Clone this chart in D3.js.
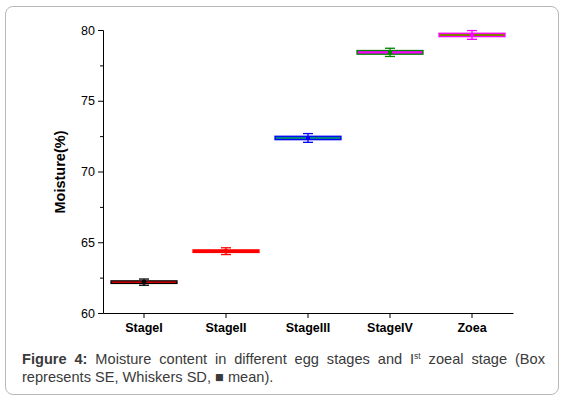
<!DOCTYPE html>
<html><head><meta charset="utf-8">
<script src="https://cdn.jsdelivr.net/npm/d3@7/dist/d3.min.js"></script>
<style>
html,body{margin:0;padding:0;background:#fff;}
#wrap{position:relative;width:569px;height:399px;}
#frame{position:absolute;left:5px;top:6px;width:554px;height:389px;border:1px solid #b8b8b8;border-radius:8px;box-sizing:border-box;}
.cap{position:absolute;left:22px;width:523px;font-family:"Liberation Sans",Arial,sans-serif;font-size:14.6px;line-height:18px;color:#3a3a3a;white-space:nowrap;}
#cap1{top:350px;text-align:justify;text-align-last:justify;white-space:normal;}
#cap2{top:368px;text-align:left;}
.cap sup{font-size:8.5px;line-height:0;vertical-align:5px;}
svg{position:absolute;left:0;top:0;}
</style></head>
<body><div id="wrap"><div id="frame"></div><svg id="chart" width="569" height="399"></svg>
<div class="cap" id="cap1"><b>Figure 4:</b> Moisture content in different egg stages and I<sup>st</sup> zoeal stage (Box</div>
<div class="cap" id="cap2">represents SE, Whiskers SD, &#9632; mean).</div></div>
<script>
const categories = ["StageI","StageII","StageIII","StageIV","Zoea"];
const means = [62.18, 64.37, 72.37, 78.42, 79.65];
const se = [0.09, 0.09, 0.12, 0.13, 0.12];
const sd = [0.22, 0.24, 0.31, 0.29, 0.31];
const borderColors = ["#000000","#ff0000","#0000ff","#008000","#ff00ff"];
const fillColors = ["#ff0000","#ff0000","#008080","#ff00ff","#808000"];
const yTicks = [60,65,70,75,80];
const yMinorTicks = [62.5,67.5,72.5,77.5];

const svg = d3.select("#chart");
const x = d3.scaleBand().domain(categories).range([103,513]).padding(0);
const y = d3.scaleLinear().domain([60,80]).range([313,30]);
const font = "'Liberation Sans',Arial,sans-serif";

// Y axis
const yAxis = svg.append("g").attr("transform","translate(103,0)")
  .call(d3.axisLeft(y).tickValues(yTicks).tickSize(5).tickPadding(3).tickFormat(d3.format("d")));
yAxis.select(".domain").attr("stroke","#000").attr("stroke-width",1);
yAxis.selectAll(".tick line").attr("stroke","#000");
yAxis.selectAll("text").attr("font-family",font).attr("font-size",12.5).attr("fill","#000");
svg.append("g").selectAll("line").data(yMinorTicks).join("line")
  .attr("x1",103).attr("x2",100).attr("y1",d=>y(d)+0.5).attr("y2",d=>y(d)+0.5).attr("stroke","#000");

// X axis
const xAxis = svg.append("g").attr("transform","translate(0,313)")
  .call(d3.axisBottom(x).tickSize(5).tickPadding(5).tickSizeOuter(0));
xAxis.select(".domain").attr("stroke","#000");
xAxis.selectAll(".tick line").attr("stroke","#000");
xAxis.selectAll("text").attr("font-family",font).attr("font-size",12.5).attr("font-weight","bold").attr("fill","#000");

// Y label
svg.append("text").attr("transform","translate(65,172) rotate(-90)")
  .attr("text-anchor","middle").attr("font-family",font).attr("font-size",14.5)
  .attr("font-weight","bold").text("Moisture(%)");

// Boxes
const bw = 66;
const g = svg.append("g").selectAll("g").data(categories).join("g");
g.each(function(c,i){
  const cx = x(c) + x.bandwidth()/2;
  const s = d3.select(this);
  const col = borderColors[i];
  s.append("line").attr("x1",cx).attr("x2",cx).attr("y1",y(means[i]+sd[i])).attr("y2",y(means[i]-sd[i])).attr("stroke",col).attr("stroke-width",1.3);
  [means[i]+sd[i], means[i]-sd[i]].forEach(v=>{
    s.append("line").attr("x1",cx-5).attr("x2",cx+5).attr("y1",y(v)).attr("y2",y(v)).attr("stroke",col).attr("stroke-width",1.3);
  });
  const top = y(means[i]+se[i]), bot = y(means[i]-se[i]);
  s.append("rect").attr("x",cx-bw/2).attr("y",top).attr("width",bw).attr("height",Math.max(bot-top,2.5))
    .attr("fill",fillColors[i]).attr("stroke",col).attr("stroke-width",1.3);
  s.append("rect").attr("x",cx-2).attr("y",y(means[i])-2).attr("width",4).attr("height",4).attr("fill",col);
});
</script></body></html>
